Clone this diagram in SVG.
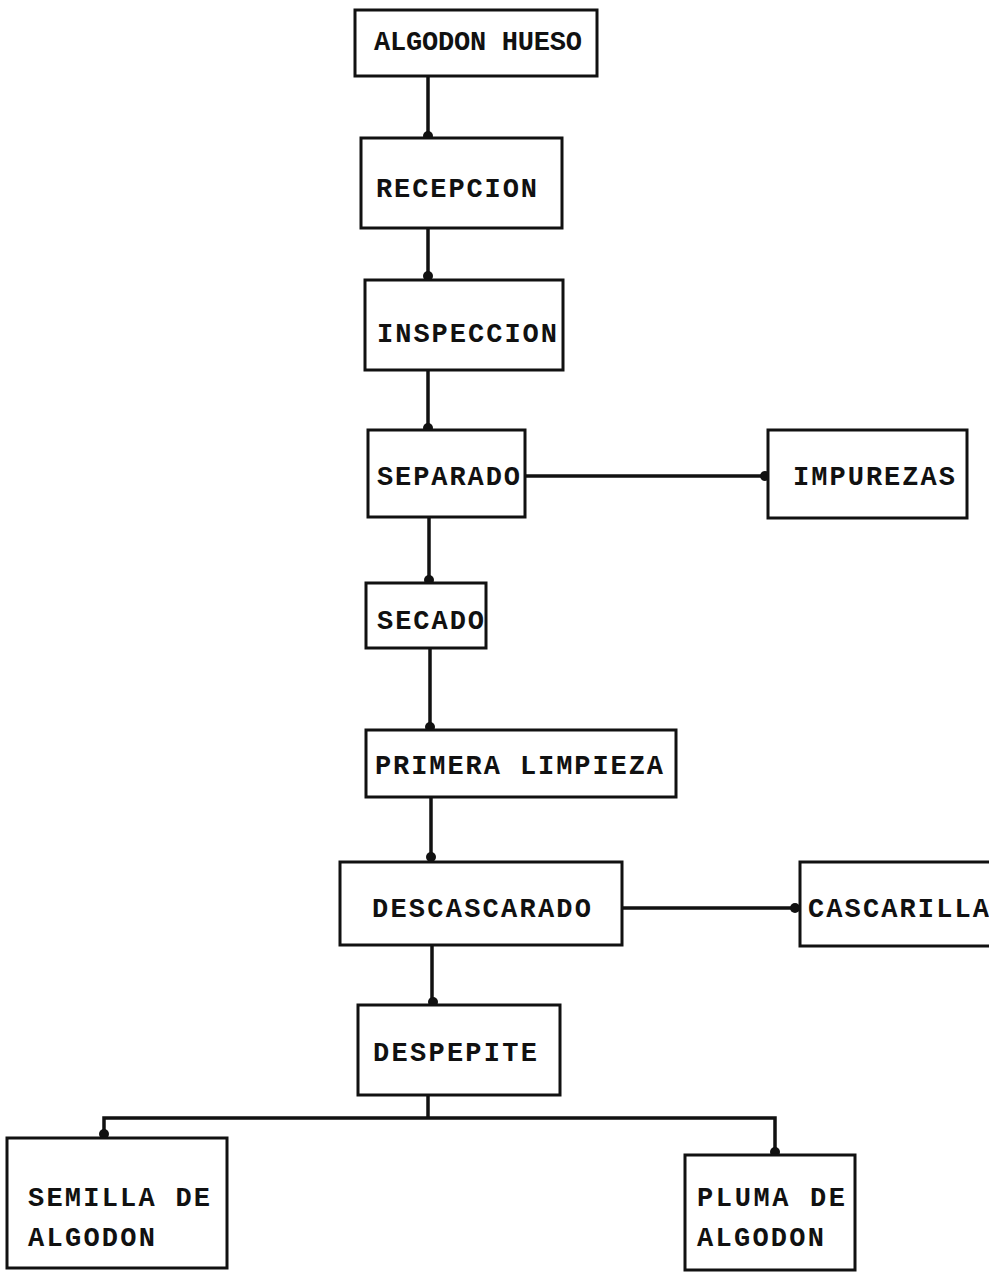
<svg xmlns="http://www.w3.org/2000/svg" width="989" height="1274" viewBox="0 0 989 1274">
  <style>
    .box { fill: #ffffff; stroke: #111111; stroke-width: 3; }
    .lbl { font-family: "Liberation Mono", "DejaVu Sans Mono", monospace; font-weight: bold; font-size: 27px; fill: #111111; }
    .wire { fill: none; stroke: #111111; stroke-width: 3.5; }
    .dot { fill: #111111; }
  </style>
  <rect width="989" height="1274" fill="#ffffff"/>

  <!-- connectors -->
  <g id="connectors">
    <line class="wire" x1="428" y1="76" x2="428" y2="137"/>
    <circle class="dot" cx="428" cy="136" r="5"/>
    <line class="wire" x1="428" y1="228" x2="428" y2="278"/>
    <circle class="dot" cx="428" cy="276" r="5"/>
    <line class="wire" x1="428" y1="370" x2="428" y2="430"/>
    <circle class="dot" cx="428" cy="428" r="5"/>
    <line class="wire" x1="525" y1="476" x2="768" y2="476"/>
    <circle class="dot" cx="765" cy="476" r="5"/>
    <line class="wire" x1="429" y1="517" x2="429" y2="583"/>
    <circle class="dot" cx="429" cy="580" r="5"/>
    <line class="wire" x1="430" y1="648" x2="430" y2="730"/>
    <circle class="dot" cx="430" cy="727" r="5"/>
    <line class="wire" x1="431" y1="797" x2="431" y2="862"/>
    <circle class="dot" cx="431" cy="857" r="5"/>
    <line class="wire" x1="622" y1="908" x2="800" y2="908"/>
    <circle class="dot" cx="795" cy="908" r="5"/>
    <line class="wire" x1="432" y1="945" x2="432" y2="1005"/>
    <circle class="dot" cx="433" cy="1002" r="5"/>
    <polyline class="wire" points="428,1095 428,1118"/>
    <polyline class="wire" points="104,1138 104,1118 775,1118 775,1155"/>
    <circle class="dot" cx="104" cy="1134" r="5"/>
    <circle class="dot" cx="775" cy="1152" r="5"/>
  </g>

  <g id="algodon-hueso">
    <rect class="box" x="355" y="10" width="242" height="66"/>
    <text class="lbl" x="374" y="50" textLength="208" lengthAdjust="spacing">ALGODON HUESO</text>
  </g>
  <g id="recepcion">
    <rect class="box" x="361" y="138" width="201" height="90"/>
    <text class="lbl" x="376" y="197" textLength="161" lengthAdjust="spacing">RECEPCION</text>
  </g>
  <g id="inspeccion">
    <rect class="box" x="365" y="280" width="198" height="90"/>
    <text class="lbl" x="377" y="342" textLength="180" lengthAdjust="spacing">INSPECCION</text>
  </g>
  <g id="separado">
    <rect class="box" x="368" y="430" width="157" height="87"/>
    <text class="lbl" x="377" y="485" textLength="143" lengthAdjust="spacing">SEPARADO</text>
  </g>
  <g id="impurezas">
    <rect class="box" x="768" y="430" width="199" height="88"/>
    <text class="lbl" x="793" y="485" textLength="162" lengthAdjust="spacing">IMPUREZAS</text>
  </g>
  <g id="secado">
    <rect class="box" x="366" y="583" width="120" height="65"/>
    <text class="lbl" x="377" y="629" textLength="107" lengthAdjust="spacing">SECADO</text>
  </g>
  <g id="primera-limpieza">
    <rect class="box" x="366" y="730" width="310" height="67"/>
    <text class="lbl" x="375" y="774" textLength="288" lengthAdjust="spacing">PRIMERA LIMPIEZA</text>
  </g>
  <g id="descascarado">
    <rect class="box" x="340" y="862" width="282" height="83"/>
    <text class="lbl" x="372" y="917" textLength="219" lengthAdjust="spacing">DESCASCARADO</text>
  </g>
  <g id="cascarilla">
    <rect class="box" x="800" y="862" width="200" height="84"/>
    <text class="lbl" x="808" y="917" textLength="181" lengthAdjust="spacing">CASCARILLA</text>
  </g>
  <g id="despepite">
    <rect class="box" x="358" y="1005" width="202" height="90"/>
    <text class="lbl" x="373" y="1061" textLength="164" lengthAdjust="spacing">DESPEPITE</text>
  </g>
  <g id="semilla-de-algodon">
    <rect class="box" x="7" y="1138" width="220" height="130"/>
    <text class="lbl" x="28" y="1206" textLength="182" lengthAdjust="spacing">SEMILLA DE</text>
    <text class="lbl" x="28" y="1246" textLength="127" lengthAdjust="spacing">ALGODON</text>
  </g>
  <g id="pluma-de-algodon">
    <rect class="box" x="685" y="1155" width="170" height="115"/>
    <text class="lbl" x="697" y="1206" textLength="148" lengthAdjust="spacing">PLUMA DE</text>
    <text class="lbl" x="697" y="1246" textLength="127" lengthAdjust="spacing">ALGODON</text>
  </g>
</svg>
